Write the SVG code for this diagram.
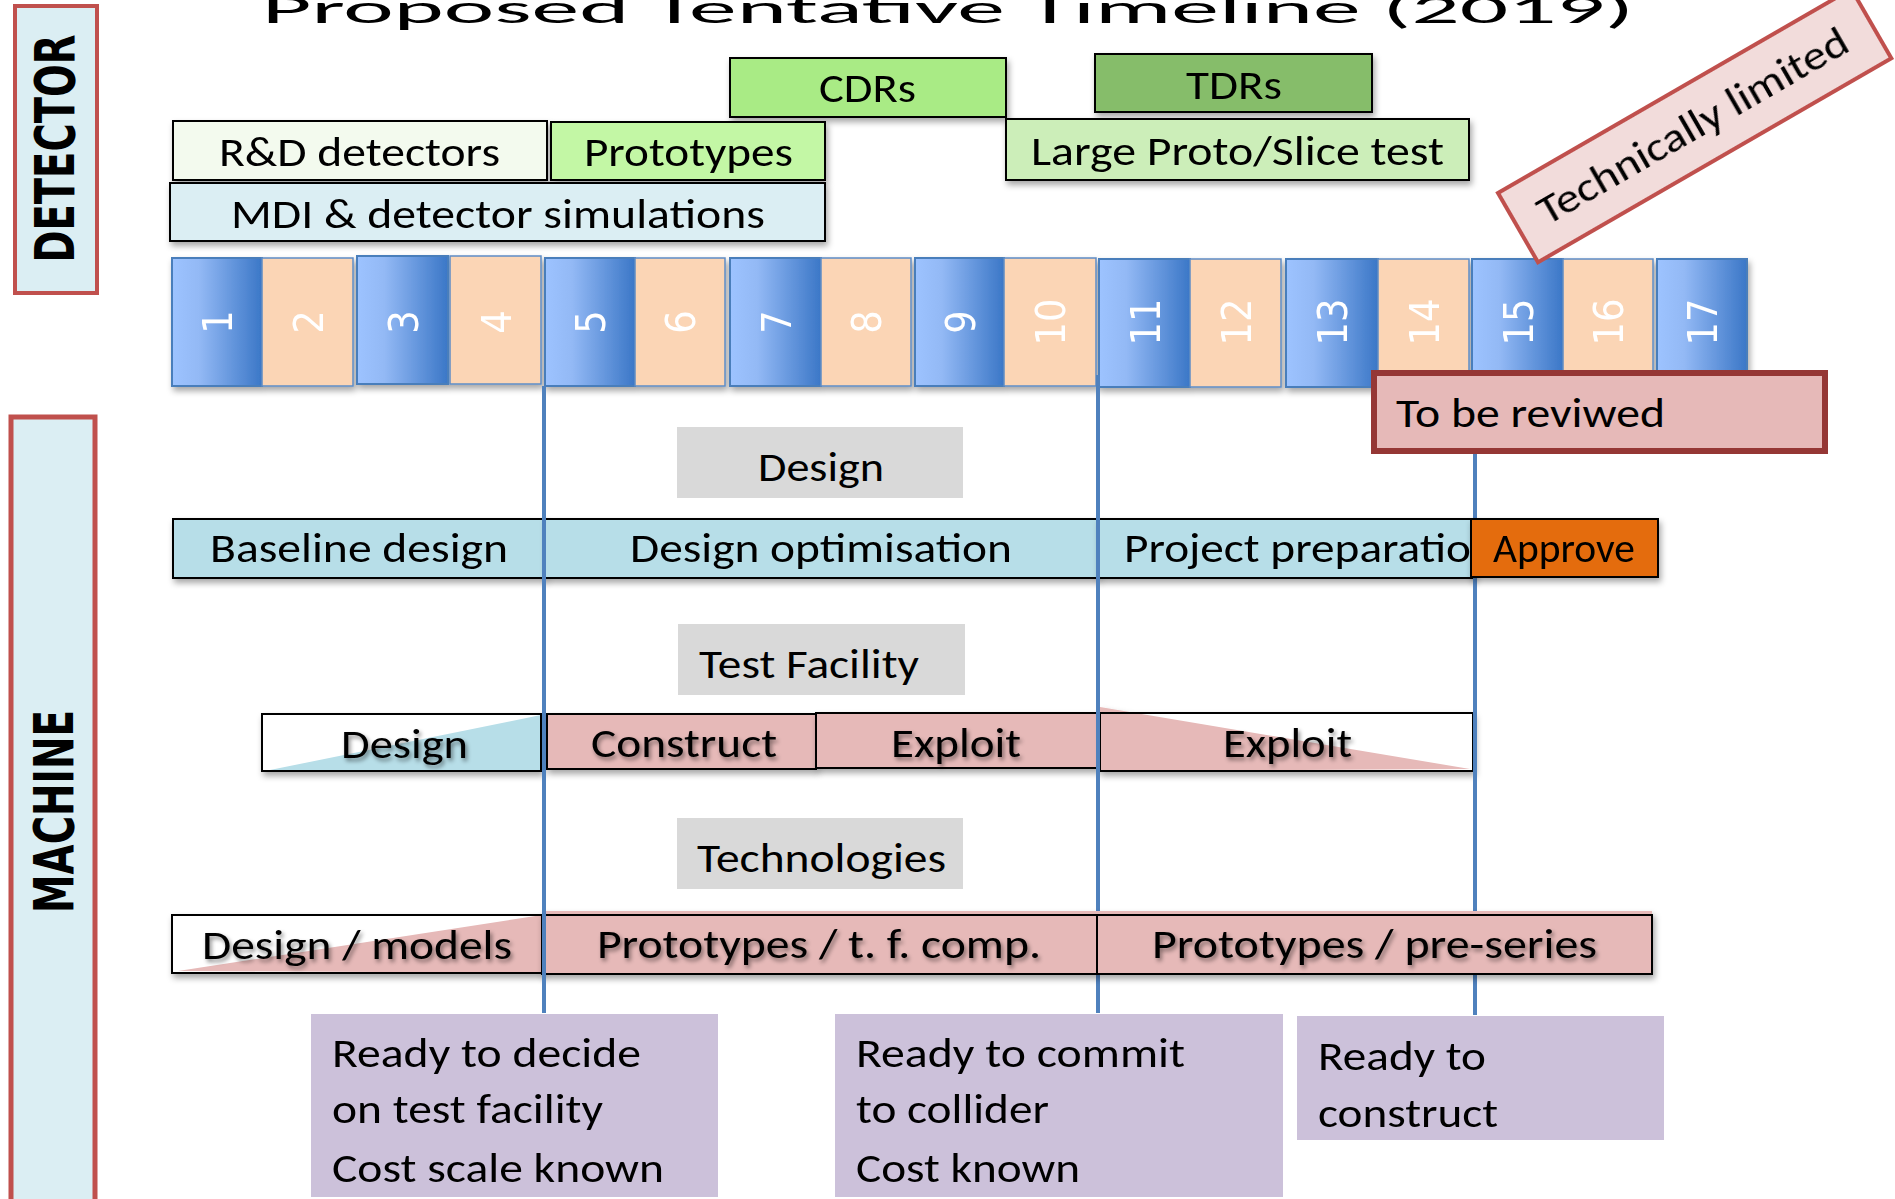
<svg xmlns="http://www.w3.org/2000/svg" width="1895" height="1199" viewBox="0 0 1895 1199">
<defs>
<style>
text{font-family:Carlito,Calibri,Lato,'Liberation Sans',sans-serif;font-size:42px;fill:#000}
.box{stroke:#000;stroke-width:2}
.lbl{stroke:#C0504D;fill:#DBEEF3}
.side{font-family:'DejaVu Sans',sans-serif;font-weight:bold;font-size:55px}
.num{font-family:'DejaVu Sans Condensed','DejaVu Sans',sans-serif;font-stretch:condensed;font-size:41px;fill:#fff}
.blue{fill:url(#bg);stroke:#4A7EBB;stroke-width:2}
.peach{fill:#FBD5B5;stroke:#5E8CC6;stroke-width:1.5}
.gray{fill:#D9D9D9}
.pink{fill:#E6B9B8}
.lblue{fill:#B7DEE8}
.purple{fill:#CCC1DA}
.conn{stroke:#4F81BD;stroke-width:4;fill:none}
.ts{filter:url(#tsh)}
</style>
<linearGradient id="bg" x1="0" y1="0" x2="1" y2="0">
<stop offset="0" stop-color="#9DC3FF"/><stop offset="0.3" stop-color="#93B9F5"/><stop offset="1" stop-color="#3B77C7"/>
</linearGradient>
<filter id="sh" x="-10%" y="-20%" width="130%" height="160%"><feDropShadow dx="2" dy="4" stdDeviation="3" flood-color="#000" flood-opacity="0.35"/></filter>
<filter id="tsh" x="-10%" y="-30%" width="130%" height="170%"><feDropShadow dx="2" dy="3" stdDeviation="2" flood-color="#000" flood-opacity="0.45"/></filter>
</defs>
<rect width="1895" height="1199" fill="#fff"/>

<g id="title"><text x="262" y="23" font-size="90" font-weight="300" textLength="1372" lengthAdjust="spacingAndGlyphs">Proposed Tentative Timeline (2019)</text></g>

<g id="detector-label"><rect class="lbl" x="15" y="6" width="82" height="287" stroke-width="4"/><text class="side" text-anchor="middle" transform="translate(74,148.5) rotate(-90)" textLength="228" lengthAdjust="spacingAndGlyphs">DETECTOR</text></g>
<g id="machine-label"><rect class="lbl" x="11" y="417" width="84" height="800" stroke-width="5"/><text class="side" text-anchor="middle" transform="translate(73,811.5) rotate(-90)" textLength="203" lengthAdjust="spacingAndGlyphs">MACHINE</text></g>

<g id="cdrs" filter="url(#sh)"><rect class="box" x="730" y="58" width="276" height="59" fill="#A9EB85"/><text x="819" y="102" textLength="97" lengthAdjust="spacingAndGlyphs">CDRs</text></g>
<g id="tdrs" filter="url(#sh)"><rect class="box" x="1095" y="54" width="277" height="58" fill="#86BD6B"/><text x="1186" y="99" textLength="96" lengthAdjust="spacingAndGlyphs">TDRs</text></g>
<g id="large-proto" filter="url(#sh)"><rect class="box" x="1006" y="119" width="463" height="61" fill="#CCEEB9"/><text x="1031" y="165" textLength="413" lengthAdjust="spacingAndGlyphs">Large Proto/Slice test</text></g>
<g id="rd-detectors" filter="url(#sh)"><rect class="box" x="173" y="121" width="374" height="59" fill="#F3FAEE"/><text x="219" y="166" textLength="281" lengthAdjust="spacingAndGlyphs">R&amp;D detectors</text></g>
<g id="prototypes-det" filter="url(#sh)"><rect class="box" x="551" y="122" width="274" height="58" fill="#C3F7A5"/><text x="584" y="166" textLength="209" lengthAdjust="spacingAndGlyphs">Prototypes</text></g>
<g id="mdi" filter="url(#sh)"><rect class="box" x="170" y="183" width="655" height="58" fill="#DBEEF3"/><text x="231" y="228" textLength="534" lengthAdjust="spacingAndGlyphs">MDI &amp; detector simulations</text></g>

<g id="cells" filter="url(#sh)">
<g id="cell-1"><rect class="blue" x="172" y="258" width="90" height="128"/><text class="num" text-anchor="middle" transform="translate(232,322) rotate(-90)">1</text></g>
<g id="cell-2"><rect class="peach" x="262" y="258" width="91" height="128"/><text class="num" text-anchor="middle" transform="translate(322.5,322) rotate(-90)">2</text></g>
<g id="cell-3"><rect class="blue" x="357" y="256" width="91" height="128"/><text class="num" text-anchor="middle" transform="translate(417.5,322) rotate(-90)">3</text></g>
<g id="cell-4"><rect class="peach" x="450" y="256" width="91" height="128"/><text class="num" text-anchor="middle" transform="translate(510.5,322) rotate(-90)">4</text></g>
<g id="cell-5"><rect class="blue" x="545" y="258" width="90" height="128"/><text class="num" text-anchor="middle" transform="translate(605,322) rotate(-90)">5</text></g>
<g id="cell-6"><rect class="peach" x="635" y="258" width="90" height="128"/><text class="num" text-anchor="middle" transform="translate(695,322) rotate(-90)">6</text></g>
<g id="cell-7"><rect class="blue" x="730" y="258" width="91" height="128"/><text class="num" text-anchor="middle" transform="translate(790.5,322) rotate(-90)">7</text></g>
<g id="cell-8"><rect class="peach" x="821" y="258" width="90" height="128"/><text class="num" text-anchor="middle" transform="translate(881,322) rotate(-90)">8</text></g>
<g id="cell-9"><rect class="blue" x="915" y="258" width="89" height="128"/><text class="num" text-anchor="middle" transform="translate(974.5,322) rotate(-90)">9</text></g>
<g id="cell-10"><rect class="peach" x="1004" y="258" width="92" height="128"/><text class="num" text-anchor="middle" transform="translate(1065,322) rotate(-90)">10</text></g>
<g id="cell-11"><rect class="blue" x="1099" y="259" width="91" height="128"/><text class="num" text-anchor="middle" transform="translate(1159.5,322) rotate(-90)">11</text></g>
<g id="cell-12"><rect class="peach" x="1190" y="259" width="91" height="128"/><text class="num" text-anchor="middle" transform="translate(1250.5,322) rotate(-90)">12</text></g>
<g id="cell-13"><rect class="blue" x="1286" y="259" width="92" height="128"/><text class="num" text-anchor="middle" transform="translate(1347,322) rotate(-90)">13</text></g>
<g id="cell-14"><rect class="peach" x="1378" y="259" width="91" height="128"/><text class="num" text-anchor="middle" transform="translate(1438.5,322) rotate(-90)">14</text></g>
<g id="cell-15"><rect class="blue" x="1472" y="259" width="91" height="128"/><text class="num" text-anchor="middle" transform="translate(1532.5,322) rotate(-90)">15</text></g>
<g id="cell-16"><rect class="peach" x="1563" y="259" width="90" height="128"/><text class="num" text-anchor="middle" transform="translate(1623,322) rotate(-90)">16</text></g>
<g id="cell-17"><rect class="blue" x="1657" y="259" width="90" height="128"/><text class="num" text-anchor="middle" transform="translate(1717,322) rotate(-90)">17</text></g>
</g>

<g id="technically-limited" transform="translate(1498,193) rotate(-30)"><rect x="0" y="0" width="408" height="80" fill="#F2DCDB" stroke="#C0504D" stroke-width="4"/><text x="26" y="53" textLength="352" lengthAdjust="spacingAndGlyphs">Technically limited</text></g>

<g id="gray-design"><rect class="gray" x="677" y="427" width="286" height="71"/><text x="758" y="481" textLength="126" lengthAdjust="spacingAndGlyphs">Design</text></g>
<g id="gray-test-facility"><rect class="gray" x="678" y="624" width="287" height="71"/><text x="699" y="678" textLength="220" lengthAdjust="spacingAndGlyphs">Test Facility</text></g>
<g id="gray-technologies"><rect class="gray" x="677" y="818" width="286" height="71"/><text x="697" y="872" textLength="249" lengthAdjust="spacingAndGlyphs">Technologies</text></g>

<g id="baseline-design" filter="url(#sh)"><rect class="box lblue" x="173" y="519" width="372" height="59"/><text x="210" y="562" textLength="298" lengthAdjust="spacingAndGlyphs">Baseline design</text></g>
<g id="design-optimisation" filter="url(#sh)"><rect class="box lblue" x="545" y="519" width="553" height="59"/><text x="630" y="562" textLength="382" lengthAdjust="spacingAndGlyphs">Design optimisation</text></g>
<g id="project-preparation" filter="url(#sh)"><rect class="box lblue" x="1098" y="519" width="376" height="59"/><text x="1124" y="562" textLength="347" lengthAdjust="spacingAndGlyphs">Project preparatio</text></g>

<g id="tf-design" filter="url(#sh)"><rect x="262" y="714" width="279" height="57" fill="#fff"/><polygon points="270,770 541,715 541,770" class="lblue"/><rect x="262" y="714" width="279" height="57" fill="none" class="box"/><text class="ts" x="341" y="758" textLength="127" lengthAdjust="spacingAndGlyphs">Design</text></g>
<g id="tf-construct" filter="url(#sh)"><rect class="box pink" x="547" y="714" width="269" height="55"/><text class="ts" x="591" y="757" textLength="186" lengthAdjust="spacingAndGlyphs">Construct</text></g>
<g id="tf-exploit-1" filter="url(#sh)"><rect class="box pink" x="816" y="713" width="281" height="55"/><text class="ts" x="891" y="757" textLength="130" lengthAdjust="spacingAndGlyphs">Exploit</text></g>
<g id="tf-exploit-2" filter="url(#sh)"><rect x="1100" y="713" width="373" height="58" fill="#fff"/><polygon points="1100,707 1470,769 1100,771" class="pink"/><rect x="1100" y="713" width="373" height="58" fill="none" class="box"/><text class="ts" x="1223" y="757" textLength="129" lengthAdjust="spacingAndGlyphs">Exploit</text></g>

<g id="to-be-reviewed"><rect x="1374" y="373" width="451" height="78" class="pink" stroke="#953735" stroke-width="6"/><text x="1396" y="427" textLength="269" lengthAdjust="spacingAndGlyphs">To be reviwed</text></g>

<g id="connectors">
<line class="conn" x1="1098" y1="375" x2="1098" y2="911"/>
<line class="conn" x1="1098" y1="975" x2="1098" y2="1013"/>
<line class="conn" x1="1475" y1="454" x2="1475" y2="911"/>
<line class="conn" x1="1475" y1="975" x2="1475" y2="1015"/>
</g>

<g id="approve" filter="url(#sh)"><rect class="box" x="1471" y="519" width="187" height="58" fill="#E46C0A"/><text x="1493" y="562" textLength="142" lengthAdjust="spacingAndGlyphs">Approve</text></g>

<g id="tech-design-models" filter="url(#sh)"><rect x="172" y="915" width="370" height="58" fill="#fff"/><polygon points="178,971 542,915 542,973" class="pink"/><rect x="172" y="915" width="370" height="58" fill="none" class="box"/><text class="ts" x="202" y="959" textLength="310" lengthAdjust="spacingAndGlyphs">Design / models</text></g>
<g id="tech-prototypes" filter="url(#sh)"><rect class="pink" x="542" y="911" width="1110" height="63"/><rect class="box" x="542" y="915" width="555" height="59" fill="none"/><rect class="box" x="1097" y="915" width="555" height="59" fill="none"/><text class="ts" x="597" y="958" textLength="444" lengthAdjust="spacingAndGlyphs">Prototypes / t. f. comp.</text><text class="ts" x="1152" y="958" textLength="445" lengthAdjust="spacingAndGlyphs">Prototypes / pre-series</text></g>

<g id="connector-front"><line class="conn" x1="544" y1="386" x2="544" y2="1013"/></g>

<g id="ready-decide"><rect class="purple" x="311" y="1014" width="407" height="183"/><text x="332" y="1067" textLength="309" lengthAdjust="spacingAndGlyphs">Ready to decide</text><text x="332" y="1123" textLength="271" lengthAdjust="spacingAndGlyphs">on test facility</text><text x="332" y="1182" textLength="332" lengthAdjust="spacingAndGlyphs">Cost scale known</text></g>
<g id="ready-commit"><rect class="purple" x="835" y="1014" width="448" height="183"/><text x="856" y="1067" textLength="329" lengthAdjust="spacingAndGlyphs">Ready to commit</text><text x="856" y="1123" textLength="193" lengthAdjust="spacingAndGlyphs">to collider</text><text x="856" y="1182" textLength="224" lengthAdjust="spacingAndGlyphs">Cost known</text></g>
<g id="ready-construct"><rect class="purple" x="1297" y="1016" width="367" height="124"/><text x="1318" y="1070" textLength="168" lengthAdjust="spacingAndGlyphs">Ready to</text><text x="1318" y="1127" textLength="180" lengthAdjust="spacingAndGlyphs">construct</text></g>
</svg>
